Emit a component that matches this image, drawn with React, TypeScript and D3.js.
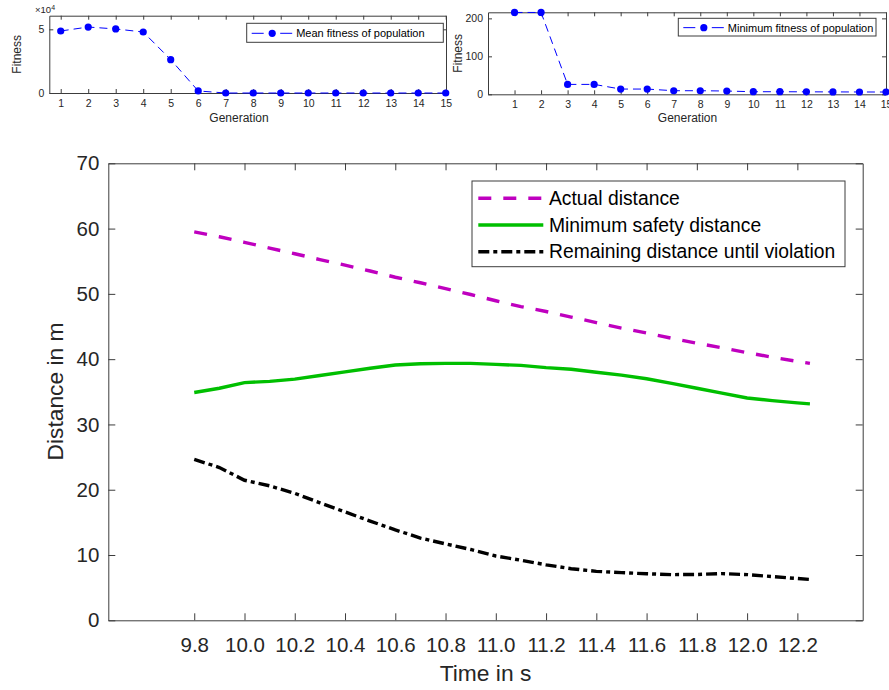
import React, { useRef, useEffect } from 'react';
import * as d3 from 'd3';

const FONT = '"Liberation Sans", Arial, Helvetica, sans-serif';
const TEXT = '#262626';
const AXIS = '#3c3c3c';

// genetic algorithm panels (top)
const generations = [1, 2, 3, 4, 5, 6, 7, 8, 9, 10, 11, 12, 13, 14, 15];
const meanFitness = [48700, 51800, 50300, 47900, 26200, 1600, 0, 0, 0, 0, 0, 0, 0, 0, 0];
const minFitness = [215.6, 215.6, 26.1, 26.1, 13.8, 13.8, 9.4, 9.4, 8.6, 6.8, 6.8, 6.5, 6.3, 6.1, 6.0];
const meanFitnessTicks = [0, 50000];
const minFitnessTicks = [0, 100, 200];

// distance over time (bottom)
const timeS = [
  9.8, 9.9, 10.0, 10.1, 10.2, 10.3, 10.4, 10.5, 10.6, 10.7, 10.8, 10.9, 11.0,
  11.1, 11.2, 11.3, 11.4, 11.5, 11.6, 11.7, 11.8, 11.9, 12.0, 12.1, 12.2, 12.25,
];
const actualDistance = [
  59.5, 58.75, 57.9, 57.0, 56.15, 55.25, 54.4, 53.5, 52.55, 51.7, 50.8, 49.9, 48.95,
  48.05, 47.3, 46.45, 45.6, 44.75, 44.0, 43.2, 42.45, 41.75, 41.0, 40.3, 39.65, 39.35,
];
const minSafetyDistance = [
  34.9, 35.55, 36.4, 36.6, 36.95, 37.5, 38.05, 38.6, 39.1, 39.3, 39.35, 39.35, 39.2,
  39.05, 38.7, 38.45, 38.0, 37.55, 37.0, 36.3, 35.55, 34.8, 34.05, 33.65, 33.3, 33.15,
];
const remainingDistance = [
  24.65, 23.4, 21.45, 20.6, 19.45, 18.0, 16.6, 15.2, 13.85, 12.6, 11.7, 10.85, 9.85,
  9.2, 8.5, 7.9, 7.5, 7.3, 7.13, 7.0, 7.02, 7.15, 7.0, 6.7, 6.4, 6.25,
];
const timeTicks = [9.8, 10.0, 10.2, 10.4, 10.6, 10.8, 11.0, 11.2, 11.4, 11.6, 11.8, 12.0, 12.2];
const distanceTicks = [0, 10, 20, 30, 40, 50, 60, 70];

const seriesNames = ['Actual distance', 'Minimum safety distance', 'Remaining distance until violation'];

// MATLAB-like box with inward ticks on all four sides
const drawFrame = (svg, x, y, o) => {
  const [x0, x1] = x.range();
  const [y0, y1] = y.range();
  const g = svg.append('g');
  g.append('g')
    .attr('transform', `translate(0,${y0})`)
    .call(d3.axisBottom(x).tickValues(o.xTicks).tickFormat(o.fmtX).tickSize(-o.tick).tickSizeOuter(0).tickPadding(o.padX));
  g.append('g')
    .attr('transform', `translate(0,${y1})`)
    .call(d3.axisTop(x).tickValues(o.xTicks).tickFormat(() => '').tickSize(-o.tick).tickSizeOuter(0));
  g.append('g')
    .attr('transform', `translate(${x0},0)`)
    .call(d3.axisLeft(y).tickValues(o.yTicks).tickFormat(o.fmtY).tickSize(-o.tick).tickSizeOuter(0).tickPadding(o.padY));
  g.append('g')
    .attr('transform', `translate(${x1},0)`)
    .call(d3.axisRight(y).tickValues(o.yTicks).tickFormat(() => '').tickSize(-o.tick).tickSizeOuter(0));
  g.selectAll('.domain, .tick line').attr('stroke', AXIS).attr('stroke-width', 1);
  g.selectAll('text').attr('fill', TEXT).attr('font-family', FONT).attr('font-size', o.fontSize);
  return g;
};

const addLabel = (svg, x, y, text, size, rotate = false) => {
  svg
    .append('text')
    .attr('transform', rotate ? `translate(${x},${y}) rotate(-90)` : `translate(${x},${y})`)
    .attr('text-anchor', 'middle')
    .attr('fill', TEXT)
    .attr('font-family', FONT)
    .attr('font-size', size)
    .text(text);
};

const drawGaPanel = (svg, p) => {
  const x = d3.scaleLinear().domain(p.xDomain).range(p.xRange);
  const y = d3.scaleLinear().domain(p.yDomain).range(p.yRange);
  drawFrame(svg, x, y, {
    xTicks: generations,
    yTicks: p.yTicks,
    fmtX: d3.format('d'),
    fmtY: p.fmtY,
    tick: 4,
    padX: 6.5,
    padY: 5,
    fontSize: 10.5,
  });

  const line = d3.line().x((d, i) => x(generations[i])).y((d) => y(d));
  svg
    .append('path')
    .datum(p.values)
    .attr('fill', 'none')
    .attr('stroke', '#0000ff')
    .attr('stroke-width', 1)
    .attr('stroke-dasharray', '8 5')
    .attr('d', line);
  svg
    .append('g')
    .selectAll('circle')
    .data(p.values)
    .join('circle')
    .attr('cx', (d, i) => x(generations[i]))
    .attr('cy', (d) => y(d))
    .attr('r', 3.6)
    .attr('fill', '#0000ff');

  addLabel(svg, p.genLabelX, 122, 'Generation', 12);
  addLabel(svg, p.fitLabelX, (p.yRange[0] + p.yRange[1]) / 2, 'Fitness', 12, true);

  // legend
  const lg = p.legend;
  svg
    .append('rect')
    .attr('x', lg.x)
    .attr('y', lg.y)
    .attr('width', lg.w)
    .attr('height', lg.h)
    .attr('fill', 'white')
    .attr('stroke', AXIS)
    .attr('stroke-width', 1);
  const cy = lg.y + lg.h / 2 + 0.5;
  svg
    .append('line')
    .attr('x1', lg.x + 5)
    .attr('x2', lg.x + 46.5)
    .attr('y1', cy)
    .attr('y2', cy)
    .attr('stroke', '#0000ff')
    .attr('stroke-width', 1)
    .attr('stroke-dasharray', '12 16.5');
  svg
    .append('circle')
    .attr('cx', lg.x + 25.5)
    .attr('cy', cy)
    .attr('r', 3.6)
    .attr('fill', '#0000ff');
  svg
    .append('text')
    .attr('x', lg.x + 49.5)
    .attr('y', cy)
    .attr('dy', '0.35em')
    .attr('fill', '#000')
    .attr('font-family', FONT)
    .attr('font-size', 11)
    .text(lg.text);
};

function Chart() {
  const svgRef = useRef(null);

  useEffect(() => {
    const svg = d3.select(svgRef.current);
    svg.selectAll('*').remove();

    // top-left panel: mean fitness
    drawGaPanel(svg, {
      xDomain: [0.585, 15.01],
      xRange: [49.3, 446],
      yDomain: [0, 60700],
      yRange: [93, 15.7],
      yTicks: meanFitnessTicks,
      fmtY: (d) => d3.format('d')(d / 10000),
      values: meanFitness,
      genLabelX: 239,
      fitLabelX: 20.5,
      legend: { x: 246.7, y: 23.3, w: 196.6, h: 19, text: 'Mean fitness of population' },
    });
    const exp = svg
      .append('text')
      .attr('x', 35)
      .attr('y', 13.3)
      .attr('fill', TEXT)
      .attr('font-family', FONT)
      .attr('font-size', 9.5);
    exp.append('tspan').text('\u00d710');
    exp.append('tspan').attr('dy', -3.5).attr('font-size', 7).text('4');

    // top-right panel: minimum fitness
    drawGaPanel(svg, {
      xDomain: [0, 15],
      xRange: [488, 886],
      yDomain: [0, 216],
      yRange: [94.3, 12.3],
      yTicks: minFitnessTicks,
      fmtY: d3.format('d'),
      values: minFitness,
      genLabelX: 687.5,
      fitLabelX: 462,
      legend: { x: 678.3, y: 18.3, w: 197.7, h: 17.7, text: 'Minimum fitness of population' },
    });

    // main panel: distances
    const x = d3.scaleLinear().domain([9.458, 12.46]).range([108.3, 862.7]);
    const y = d3.scaleLinear().domain([0, 70]).range([620.3, 163.3]);
    drawFrame(svg, x, y, {
      xTicks: timeTicks,
      yTicks: distanceTicks,
      fmtX: d3.format('.1f'),
      fmtY: d3.format('d'),
      tick: 7,
      padX: 17,
      padY: 9,
      fontSize: 20.5,
    });
    addLabel(svg, 485.5, 681, 'Time in s', 22.8);
    addLabel(svg, 63, 391.5, 'Distance in m', 22.8, true);

    const styles = [
      { values: actualDistance, color: '#bf00bf', dash: '13 12' },
      { values: minSafetyDistance, color: '#00bf00', dash: null },
      { values: remainingDistance, color: '#000000', dash: '11 4 4 4' },
    ];
    const line = d3.line().x((d, i) => x(timeS[i])).y((d) => y(d));
    styles.forEach((s) => {
      svg
        .append('path')
        .datum(s.values)
        .attr('fill', 'none')
        .attr('stroke', s.color)
        .attr('stroke-width', 3.4)
        .attr('stroke-dasharray', s.dash)
        .attr('d', line);
    });

    // legend
    svg
      .append('rect')
      .attr('x', 472)
      .attr('y', 181)
      .attr('width', 373)
      .attr('height', 85.7)
      .attr('fill', 'white')
      .attr('stroke', AXIS)
      .attr('stroke-width', 1);
    styles.forEach((s, i) => {
      const cy = 198.3 + i * 26.7;
      svg
        .append('line')
        .attr('x1', 478.3)
        .attr('x2', 543.3)
        .attr('y1', cy)
        .attr('y2', cy)
        .attr('stroke', s.color)
        .attr('stroke-width', 3.4)
        .attr('stroke-dasharray', s.dash);
      svg
        .append('text')
        .attr('x', 549)
        .attr('y', cy)
        .attr('dy', '0.35em')
        .attr('fill', '#000')
        .attr('font-family', FONT)
        .attr('font-size', 19.3)
        .text(seriesNames[i]);
    });
  }, []);

  return (
    <svg
      ref={svgRef}
      width={889}
      height={690}
      style={{ position: 'absolute', left: 0, top: 0, background: 'white' }}
      xmlns="http://www.w3.org/2000/svg"
    />
  );
}

export default function App() {
  return <Chart />;
}
